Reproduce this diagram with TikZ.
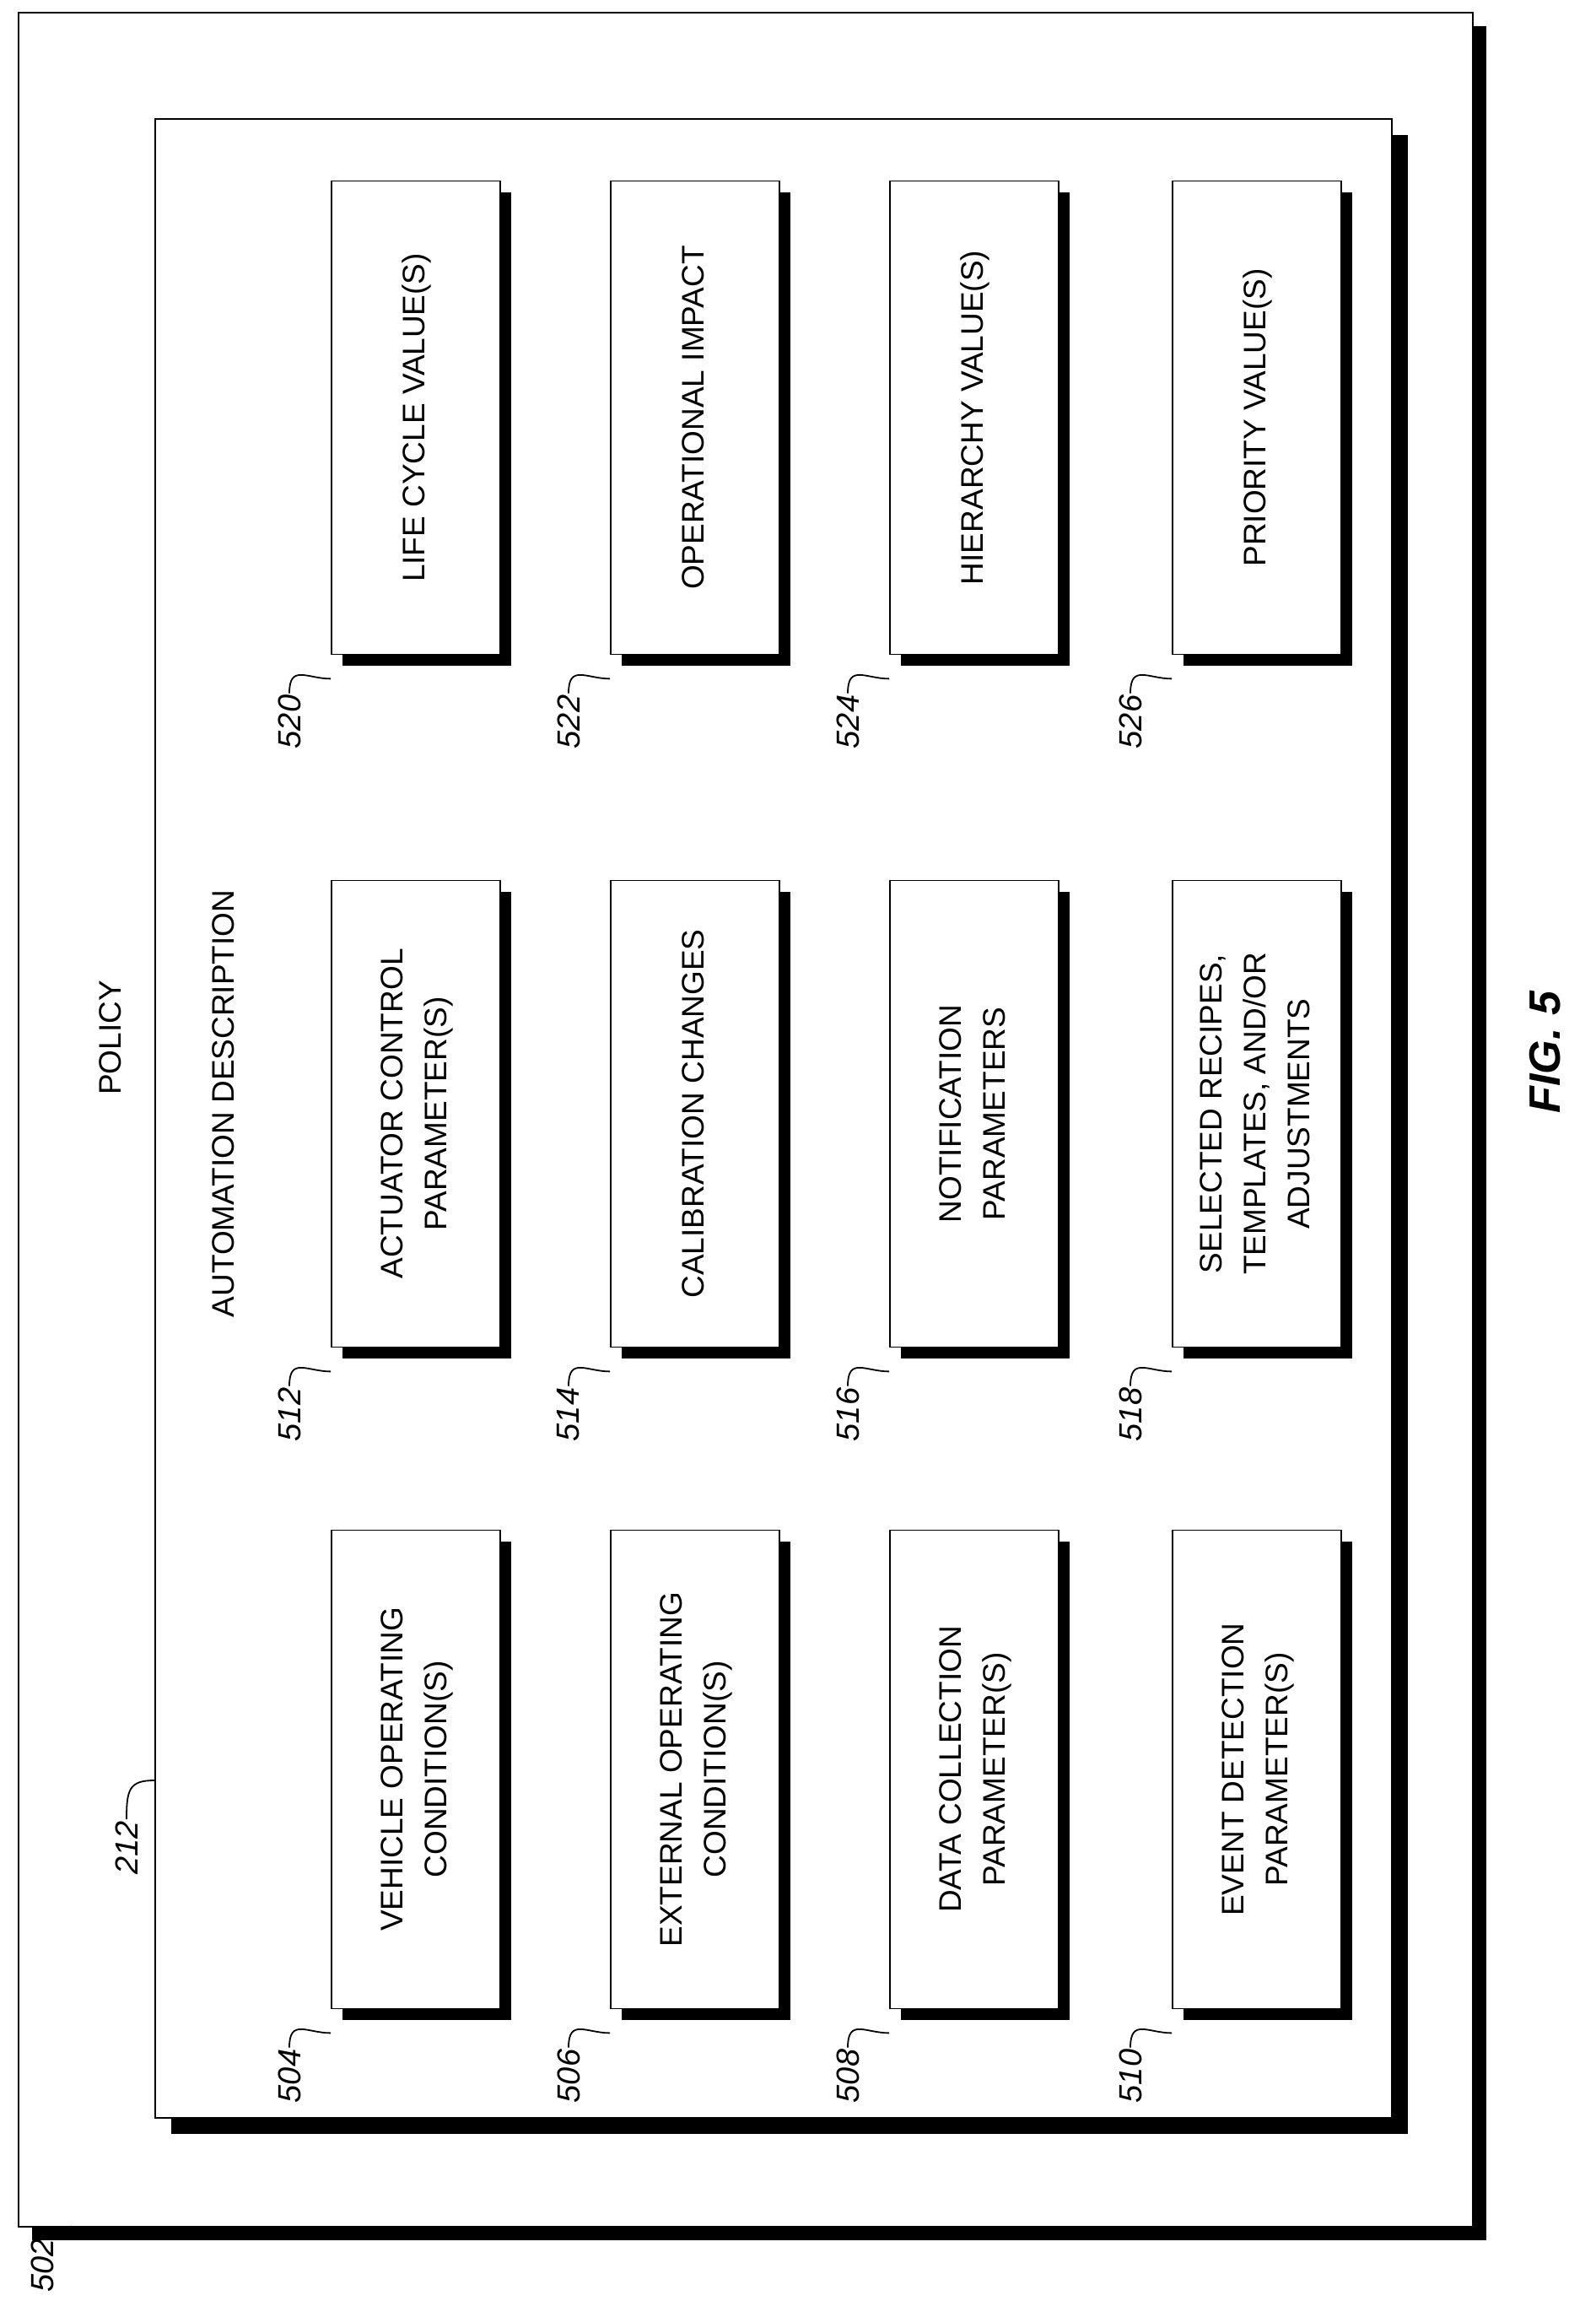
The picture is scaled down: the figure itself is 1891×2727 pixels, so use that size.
\documentclass[tikz,border=0pt]{standalone}
\usepackage{fontspec}
\setmainfont{Liberation Sans}
\usetikzlibrary{shadows}
\begin{document}
\begin{tikzpicture}[x=1pt,y=-1pt,
 frame/.style={draw,line width=1.8pt,fill=white},
 box/.style={frame,minimum width=200pt,inner sep=0pt,font=\fontsize{37}{52}\selectfont,drop shadow={shadow xshift=13pt,shadow yshift=-13pt,fill=black,opacity=1}},
 txt/.style={font=\fontsize{37}{52}\selectfont},
 num/.style={font=\fontsize{38}{44}\selectfont\itshape,rotate=90,inner sep=2pt},
 lead/.style={line width=1.8pt}]
\useasboundingbox (0,0) rectangle (1891,2727);
\fill (38,31) rectangle (1762,2655);
\node[frame,minimum width=1724pt,minimum height=2624pt,anchor=north west] (p) at (21,14) {};
\fill (203,160) rectangle (1669,2529);
\node[frame,minimum width=1466pt,minimum height=2369pt,anchor=north west] (a) at (183,140) {};
\node[txt,rotate=90] (pol) at (131,1230) {POLICY};
\node[txt,rotate=90] (ad) at (265,1308) {AUTOMATION DESCRIPTION};
\node[num] (l212) at (150,2190) {212};
\coordinate (c212) at (183,2110);
\draw[lead] (l212.east) .. controls +(0,-35) and +(-30,0) .. (c212);
\node[num] (l502) at (50,2685) {502};
\coordinate (c502) at (85,2638);
\draw[lead] (l502.east) .. controls +(0,-15) and +(0,12) .. (c502);
\foreach \n/\x/\y/\h/\t in {
 504/493/2097/567/{VEHICLE OPERATING\\CONDITION(S)},
 506/824/2097/567/{EXTERNAL OPERATING\\CONDITION(S)},
 508/1155/2097/567/{DATA COLLECTION\\PARAMETER(S)},
 510/1490/2097/567/{EVENT DETECTION\\PARAMETER(S)},
 512/493/1320/553/{ACTUATOR CONTROL\\PARAMETER(S)},
 514/824/1320/553/{CALIBRATION CHANGES},
 516/1155/1320/553/{NOTIFICATION\\PARAMETERS},
 518/1490/1320/553/{SELECTED RECIPES,\\TEMPLATES, AND/OR\\ADJUSTMENTS},
 520/493/495/561/{LIFE CYCLE VALUE(S)},
 522/824/495/561/{OPERATIONAL IMPACT},
 524/1155/495/561/{HIERARCHY VALUE(S)},
 526/1490/495/561/{PRIORITY VALUE(S)}}{
 \node[box,minimum height=\h pt] (b\n) at (\x,\y) {\rotatebox{90}{\begin{tabular}{@{}c@{}}\t\end{tabular}}};
 \node[num] (l\n) at (\x-150,\y+\h/2+80) {\n};
 \coordinate (c\n) at ([yshift=-28pt]b\n.south west);
 \draw[lead] (l\n.east) .. controls +(0,-35) and +(-28,0) .. (c\n);
}
\node[font=\fontsize{52}{60}\selectfont\bfseries\itshape,rotate=90] (fig) at (1832,1247) {FIG. 5};
\end{tikzpicture}
\end{document}
